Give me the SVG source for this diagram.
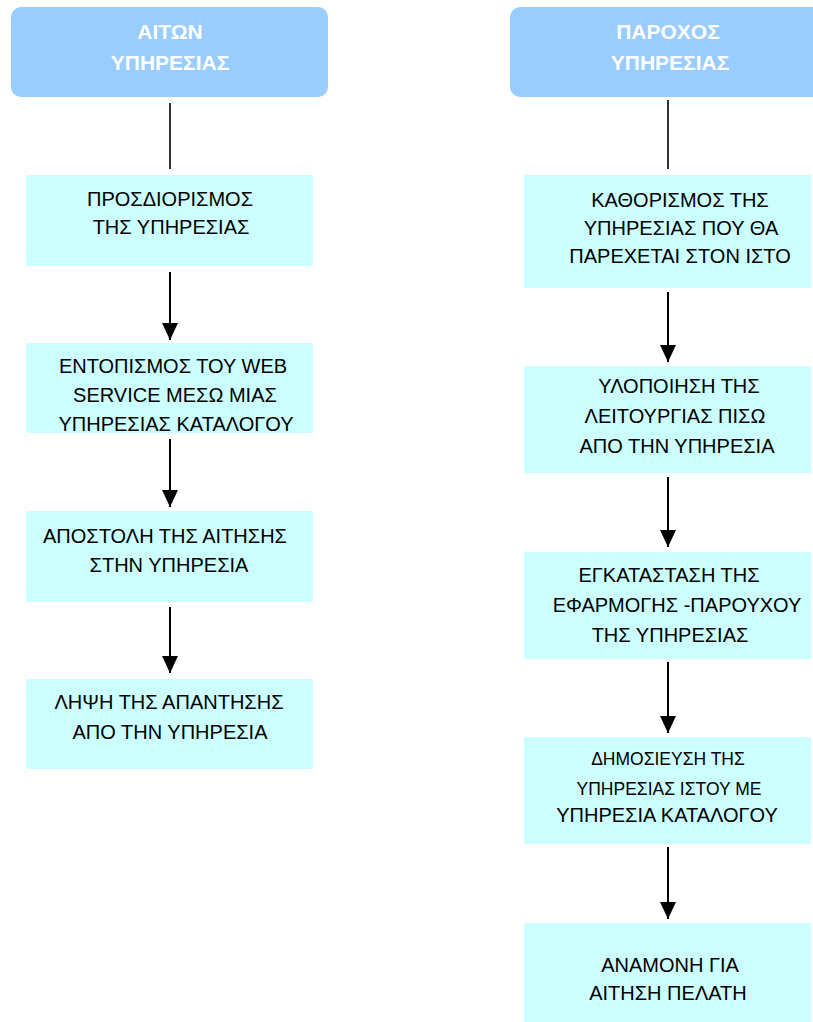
<svg xmlns="http://www.w3.org/2000/svg" width="813" height="1022" viewBox="0 0 813 1022">
<defs>
<style>
.hdr{fill:#99CCFF}
.box{fill:#CCFFFF}
.ht{font-family:"Liberation Sans",Arial,sans-serif;font-size:21px;font-weight:bold;fill:#FFFFFF;text-anchor:middle}
.t{font-family:"Liberation Sans",Arial,sans-serif;font-size:20px;fill:#000000;text-anchor:middle}
.ts{font-family:"Liberation Sans",Arial,sans-serif;font-size:17.5px;fill:#000000;text-anchor:middle}
.ln{stroke:#000000;stroke-width:1.6;fill:none}
.ar{stroke:#000000;stroke-width:2;fill:none;marker-end:url(#ah)}
</style>
<marker id="ah" markerWidth="17" markerHeight="16" refX="17" refY="8" orient="auto" markerUnits="userSpaceOnUse" viewBox="0 0 17 16">
<path d="M0,0 L17,8 L0,16 z" fill="#000000"/>
</marker>
</defs>
<rect width="813" height="1022" fill="#FFFFFF"/>

<g id="header-requester">
<rect class="hdr" x="11" y="7" width="317" height="90" rx="10" ry="10"/>
<text class="ht" x="170" y="39">ΑΙΤΩΝ</text>
<text class="ht" x="170" y="70">ΥΠΗΡΕΣΙΑΣ</text>
</g>
<g id="header-provider">
<rect class="hdr" x="510" y="7" width="320" height="90" rx="10" ry="10"/>
<text class="ht" x="668" y="39">ΠΑΡΟΧΟΣ</text>
<text class="ht" x="670" y="70">ΥΠΗΡΕΣΙΑΣ</text>
</g>

<g id="L1">
<rect class="box" x="26" y="175" width="287" height="91"/>
<text class="t" x="170" y="206">ΠΡΟΣΔΙΟΡΙΣΜΟΣ</text>
<text class="t" x="171" y="234">ΤΗΣ ΥΠΗΡΕΣΙΑΣ</text>
</g>
<g id="L2">
<rect class="box" x="26" y="343" width="287" height="90"/>
<text class="t" x="173" y="373">ΕΝΤΟΠΙΣΜΟΣ ΤΟΥ WEB</text>
<text class="t" x="175" y="402">SERVICE ΜΕΣΩ ΜΙΑΣ</text>
<text class="t" x="176" y="431">ΥΠΗΡΕΣΙΑΣ ΚΑΤΑΛΟΓΟΥ</text>
</g>
<g id="L3">
<rect class="box" x="26" y="511" width="287" height="91"/>
<text class="t" x="165" y="543">ΑΠΟΣΤΟΛΗ ΤΗΣ ΑΙΤΗΣΗΣ</text>
<text class="t" x="169" y="572">ΣΤΗΝ ΥΠΗΡΕΣΙΑ</text>
</g>
<g id="L4">
<rect class="box" x="26" y="679" width="287" height="90"/>
<text class="t" x="169" y="709">ΛΗΨΗ ΤΗΣ ΑΠΑΝΤΗΣΗΣ</text>
<text class="t" x="170" y="739">ΑΠΟ ΤΗΝ ΥΠΗΡΕΣΙΑ</text>
</g>

<g id="R1">
<rect class="box" x="524" y="175" width="287" height="113"/>
<text class="t" x="680" y="207">ΚΑΘΟΡΙΣΜΟΣ ΤΗΣ</text>
<text class="t" x="681" y="235">ΥΠΗΡΕΣΙΑΣ ΠΟΥ ΘΑ</text>
<text class="t" x="680" y="263">ΠΑΡΕΧΕΤΑΙ ΣΤΟΝ ΙΣΤΟ</text>
</g>
<g id="R2">
<rect class="box" x="524" y="366" width="287" height="107"/>
<text class="t" x="679" y="393">ΥΛΟΠΟΙΗΣΗ ΤΗΣ</text>
<text class="t" x="675" y="423">ΛΕΙΤΟΥΡΓΙΑΣ ΠΙΣΩ</text>
<text class="t" x="677" y="453">ΑΠΟ ΤΗΝ ΥΠΗΡΕΣΙΑ</text>
</g>
<g id="R3">
<rect class="box" x="524" y="552" width="287" height="107"/>
<text class="t" x="669" y="582">ΕΓΚΑΤΑΣΤΑΣΗ ΤΗΣ</text>
<text class="t" x="677" y="612">ΕΦΑΡΜΟΓΗΣ -ΠΑΡΟΥΧΟΥ</text>
<text class="t" x="670" y="642">ΤΗΣ ΥΠΗΡΕΣΙΑΣ</text>
</g>
<g id="R4">
<rect class="box" x="524" y="737" width="287" height="107"/>
<text class="ts" x="668" y="765">ΔΗΜΟΣΙΕΥΣΗ ΤΗΣ</text>
<text class="ts" x="669" y="795">ΥΠΗΡΕΣΙΑΣ ΙΣΤΟΥ ΜΕ</text>
<text class="t" x="667" y="822">ΥΠΗΡΕΣΙΑ ΚΑΤΑΛΟΓΟΥ</text>
</g>
<g id="R5">
<rect class="box" x="524" y="923" width="287" height="99"/>
<text class="t" x="670" y="972">ΑΝΑΜΟΝΗ ΓΙΑ</text>
<text class="t" x="668" y="1000">ΑΙΤΗΣΗ ΠΕΛΑΤΗ</text>
</g>

<g id="connectors">
<line class="ln" x1="170" y1="103" x2="170" y2="169"/>
<line class="ar" x1="170" y1="272" x2="170" y2="340"/>
<line class="ar" x1="170" y1="439" x2="170" y2="507"/>
<line class="ar" x1="170" y1="607" x2="170" y2="673"/>
<line class="ln" x1="668" y1="100" x2="668" y2="169"/>
<line class="ar" x1="668" y1="292" x2="668" y2="362"/>
<line class="ar" x1="668" y1="477" x2="668" y2="547"/>
<line class="ar" x1="668" y1="662" x2="668" y2="733"/>
<line class="ar" x1="668" y1="847" x2="668" y2="919"/>
</g>
</svg>
